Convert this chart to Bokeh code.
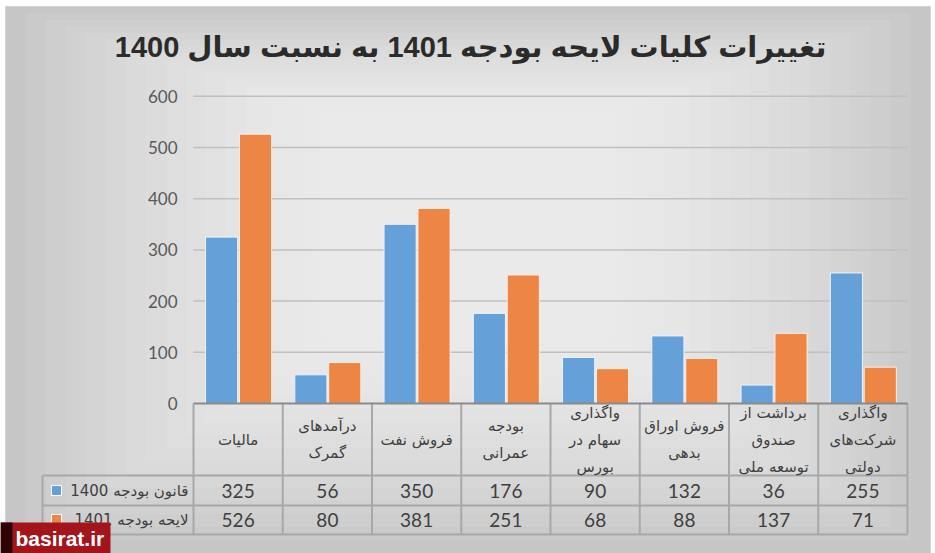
from bokeh.plotting import figure
from bokeh.models import Range1d, BoxAnnotation, Label
from bokeh.core.properties import value
from bokeh.embed import file_html
from bokeh.resources import INLINE

# ---------------- data ----------------
categories = [
    "مالیات",
    "درآمدهای\nگمرک",
    "فروش نفت",
    "بودجه\nعمرانی",
    "واگذاری\nسهام در\nبورس",
    "فروش اوراق\nبدهی",
    "برداشت از\nصندوق\nتوسعه ملی",
    "واگذاری\nشرکت‌های\nدولتی",
]
budget_1400 = [325, 56, 350, 176, 90, 132, 36, 255]
budget_1401 = [526, 80, 381, 251, 68, 88, 137, 71]
series_names = ["قانون بودجه 1400", "لایحه بودجه 1401"]
y_ticks = [0, 100, 200, 300, 400, 500, 600]
title_text = "تغییرات کلیات لایحه بودجه 1401 به نسبت سال 1400"
watermark = "basirat.ir"

# ---------------- layout helpers (pixel -> data) ----------------
W, H = 935, 553
X0, XU = 193.0, 89.25      # pixel of category 0 and pixels per category
Y0, YU = 403.0, 0.512      # pixel of value 0 and pixels per value unit


def fx(px):
    return (px - X0) / XU


def fy(py):
    return (Y0 - py) / YU


BLUE = "#65a0d8"
ORANGE = "#ed8645"
TXT = "#404040"
GRID = "#c0c0c0"
TABLE = "#a8a8a8"

n = len(categories)

p = figure(width=W, height=H, output_backend="svg", toolbar_location=None,
           x_range=Range1d(fx(0), fx(W)), y_range=Range1d(fy(H), fy(0)),
           x_axis_type=None, y_axis_type=None, min_border=0)
p.outline_line_color = None
p.background_fill_color = "white"
p.border_fill_color = "white"
p.xgrid.visible = False
p.ygrid.visible = False

# ---------------- background panel with soft gradient ----------------
p.add_layout(BoxAnnotation(left=fx(5), right=fx(930), top=fy(6), bottom=fy(H),
                           fill_color="#c6c6c6", fill_alpha=1.0,
                           line_color="#b0b0b0", line_width=1, level="underlay"))
for k in range(1, 17):
    dx, dy = 20 * k, 11 * k
    p.add_layout(BoxAnnotation(left=fx(5 + dx), right=fx(930 - dx),
                               top=fy(6 + dy * 0.6), bottom=fy(H - dy * 1.2),
                               fill_color="white", fill_alpha=0.075,
                               line_color=None, level="underlay"))

# ---------------- gridlines & y tick labels ----------------
grid_y = [t for t in y_ticks if t > 0]
p.segment(x0=[0] * len(grid_y), x1=[n] * len(grid_y), y0=grid_y, y1=grid_y,
          line_color=GRID, line_width=1.5)
p.text(x=[fx(177)] * len(y_ticks), y=y_ticks, text=[str(t) for t in y_ticks],
       text_font=value("Lato"), text_font_size="17px", text_color="#595959",
       text_align="right", text_baseline="middle")

# ---------------- bars ----------------
xs = list(range(n))
p.vbar(x=[i + 0.315 for i in xs], top=budget_1400, bottom=0, width=0.36,
       fill_color=BLUE, line_color="#eef4fa", line_width=1)
p.vbar(x=[i + 0.695 for i in xs], top=budget_1401, bottom=0, width=0.36,
       fill_color=ORANGE, line_color="#fbeee4", line_width=1)

# ---------------- data table ----------------
y_head = fy(475)
y_r1 = fy(505)
y_bot = fy(534)
x_lab = fx(42)

p.segment(x0=[x_lab, x_lab, x_lab], x1=[n, n, n], y0=[y_head, y_r1, y_bot],
          y1=[y_head, y_r1, y_bot], line_color=TABLE, line_width=2)
vx = list(range(n + 1))
p.segment(x0=vx, x1=vx, y0=[0] * len(vx), y1=[y_bot] * len(vx),
          line_color=TABLE, line_width=2)
p.segment(x0=[x_lab], x1=[x_lab], y0=[y_head], y1=[y_bot],
          line_color=TABLE, line_width=2)
p.segment(x0=[0], x1=[n], y0=[0], y1=[0], line_color="#8a8a8a", line_width=2)

# header labels
p.text(x=[i + 0.5 for i in xs], y=[fy(439)] * n, text=categories,
       text_font=value("DejaVu Sans"), text_font_size="15px", text_color=TXT,
       text_align="center", text_baseline="middle", text_line_height=1.5)

# values
p.text(x=[i + 0.5 for i in xs], y=[fy(490)] * n, text=[str(v) for v in budget_1400],
       text_font=value("Lato"), text_font_size="19px", text_color=TXT,
       text_align="center", text_baseline="middle")
p.text(x=[i + 0.5 for i in xs], y=[fy(519)] * n, text=[str(v) for v in budget_1401],
       text_font=value("Lato"), text_font_size="19px", text_color=TXT,
       text_align="center", text_baseline="middle")

# row labels with legend keys
p.scatter(x=[fx(56), fx(56)], y=[fy(490), fy(519)], marker="square", size=10,
          fill_color=[BLUE, ORANGE], line_color="white", line_width=1)
p.text(x=[fx(188), fx(188)], y=[fy(490), fy(519)], text=series_names,
       text_font=value("DejaVu Sans"), text_font_size="15px", text_color=TXT,
       text_align="right", text_baseline="middle")

# ---------------- title ----------------
p.add_layout(Label(x=fx(470), y=fy(46), text=title_text,
                   text_font="Liberation Sans, DejaVu Sans", text_font_size="29px",
                   text_font_style="bold", text_color="#2b2b2b",
                   text_align="center", text_baseline="middle"))

# ---------------- watermark ----------------
p.add_layout(BoxAnnotation(left=fx(0), right=fx(110), top=fy(522), bottom=fy(H),
                           fill_color="#a3141b", fill_alpha=1.0, line_color=None))
p.add_layout(BoxAnnotation(left=fx(0), right=fx(12), top=fy(522), bottom=fy(H),
                           fill_color="#1a0000", fill_alpha=0.85, line_color=None))
p.add_layout(Label(x=fx(15), y=fy(538), text=watermark,
                   text_font="Liberation Sans", text_font_size="21px",
                   text_font_style="bold", text_color="white",
                   text_align="left", text_baseline="middle"))

open("out.html", "w").write(file_html(p, INLINE))
